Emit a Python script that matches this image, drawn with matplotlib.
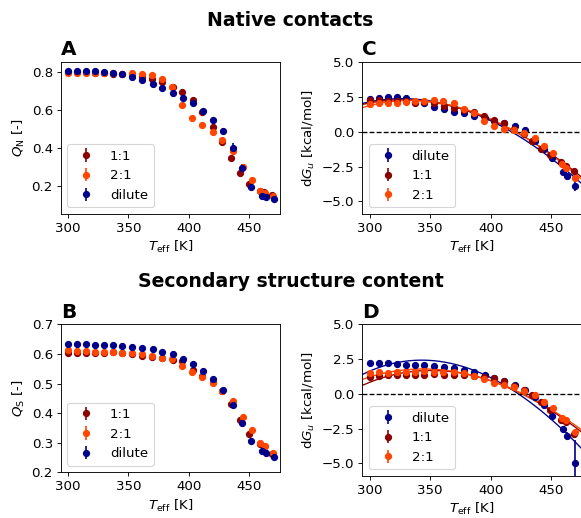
import matplotlib
matplotlib.use('Agg')
import matplotlib.pyplot as plt
import numpy as np

# ---------- data ----------
# effective temperatures of each system (K)
T_dil = [300, 307.5, 315, 322.5, 330, 337.5, 345, 353, 361.5, 370, 378, 386.5,
         395, 403, 411.5, 420, 428.5, 436.5, 444, 451, 460, 463.5, 470]
T_11 = [300, 307.5, 315, 322.5, 330, 337.5, 345, 353, 361.5, 369.5, 378, 386.5,
        394.5, 403, 411, 419.5, 427.5, 434.5, 442, 449.5, 458.5, 462, 469]
T_21 = [300, 307.5, 315, 322.5, 330, 337.5, 345, 353, 361, 369.5, 378, 386,
        394.5, 402.5, 411, 419.5, 427.5, 436.5, 444.5, 452, 459, 462.5, 469.5]

# A: native contacts fraction
QN_dil = [0.808, 0.808, 0.808, 0.806, 0.803, 0.796, 0.791, 0.775, 0.759, 0.736, 0.715, 0.692,
          0.666, 0.636, 0.597, 0.549, 0.491, 0.398, 0.292, 0.195, 0.146, 0.142, 0.128]
QN_11 = [0.800, 0.800, 0.800, 0.799, 0.798, 0.794, 0.791, 0.785, 0.777, 0.765, 0.748, 0.723,
         0.694, 0.652, 0.588, 0.512, 0.433, 0.345, 0.266, 0.209, 0.174, 0.167, 0.151]
QN_21 = [0.798, 0.799, 0.799, 0.799, 0.798, 0.795, 0.794, 0.795, 0.791, 0.784, 0.763, 0.724,
         0.627, 0.560, 0.521, 0.484, 0.442, 0.385, 0.301, 0.231, 0.172, 0.163, 0.145]
QN_dil_err = [0.003, 0.003, 0.003, 0.003, 0.003, 0.003, 0.003, 0.004, 0.004, 0.004, 0.005, 0.005,
              0.006, 0.007, 0.008, 0.010, 0.012, 0.030, 0.022, 0.010, 0.008, 0.006, 0.005]
QN_11_err = [0.003, 0.003, 0.003, 0.003, 0.003, 0.003, 0.003, 0.004, 0.004, 0.004, 0.005, 0.005,
             0.006, 0.007, 0.008, 0.010, 0.012, 0.018, 0.012, 0.008, 0.006, 0.005, 0.005]
QN_21_err = [0.003, 0.003, 0.003, 0.003, 0.003, 0.003, 0.003, 0.004, 0.004, 0.004, 0.005, 0.005,
             0.006, 0.007, 0.008, 0.010, 0.012, 0.015, 0.010, 0.008, 0.006, 0.005, 0.005]

# B: secondary structure content
QS_dil = [0.634, 0.634, 0.633, 0.631, 0.630, 0.629, 0.627, 0.624, 0.621, 0.615, 0.607, 0.599,
          0.583, 0.565, 0.542, 0.514, 0.478, 0.427, 0.366, 0.307, 0.272, 0.264, 0.253]
QS_11 = [0.602, 0.602, 0.602, 0.604, 0.604, 0.605, 0.603, 0.600, 0.593, 0.591, 0.585, 0.580,
         0.577, 0.545, 0.525, 0.505, 0.474, 0.431, 0.377, 0.329, 0.295, 0.287, 0.262]
QS_21 = [0.613, 0.611, 0.610, 0.607, 0.606, 0.605, 0.604, 0.602, 0.599, 0.594, 0.587, 0.582,
         0.560, 0.540, 0.522, 0.503, 0.476, 0.442, 0.388, 0.343, 0.300, 0.289, 0.266]
QS_dil_err = [0.002, 0.002, 0.002, 0.002, 0.002, 0.002, 0.002, 0.002, 0.003, 0.003, 0.003, 0.004,
              0.004, 0.005, 0.005, 0.006, 0.008, 0.012, 0.014, 0.008, 0.006, 0.005, 0.004]
QS_11_err = [0.002, 0.002, 0.002, 0.002, 0.002, 0.002, 0.002, 0.002, 0.003, 0.003, 0.003, 0.004,
             0.004, 0.005, 0.005, 0.006, 0.008, 0.010, 0.008, 0.006, 0.005, 0.004, 0.004]
QS_21_err = [0.002, 0.002, 0.002, 0.002, 0.002, 0.002, 0.002, 0.002, 0.003, 0.003, 0.003, 0.004,
             0.004, 0.005, 0.005, 0.006, 0.008, 0.010, 0.008, 0.006, 0.005, 0.004, 0.004]

# C: unfolding free energy from native contacts (kcal/mol)
dGN_dil = [2.35, 2.45, 2.50, 2.50, 2.40, 2.15, 2.05, 1.79, 1.60, 1.43, 1.31, 1.15,
           0.95, 0.80, 0.63, 0.39, 0.10, -0.63, -1.25, -1.85, -2.87, -3.19, -3.91]
dGN_11 = [2.30, 2.25, 2.20, 2.20, 2.23, 2.09, 2.11, 2.05, 1.84, 1.72, 1.55, 1.38,
          1.14, 0.87, 0.60, 0.20, -0.15, -0.65, -1.24, -1.70, -2.20, -2.45, -2.82]
dGN_21 = [1.97, 2.04, 2.09, 2.09, 2.11, 2.23, 2.23, 2.28, 2.21, 2.04, 1.65, 1.33,
          0.75, 0.44, 0.22, 0.09, -0.10, -0.44, -1.00, -1.56, -2.35, -2.58, -3.31]
dGN_dil_err = [0.05, 0.05, 0.05, 0.05, 0.05, 0.05, 0.05, 0.05, 0.05, 0.05, 0.05, 0.05,
               0.05, 0.05, 0.05, 0.05, 0.06, 0.08, 0.10, 0.12, 0.15, 0.15, 0.35]
dGN_11_err = [0.05, 0.05, 0.05, 0.05, 0.05, 0.05, 0.05, 0.05, 0.05, 0.05, 0.05, 0.05,
              0.05, 0.05, 0.05, 0.05, 0.06, 0.08, 0.10, 0.10, 0.12, 0.12, 0.15]
dGN_21_err = [0.05, 0.05, 0.05, 0.05, 0.05, 0.05, 0.05, 0.05, 0.05, 0.05, 0.05, 0.05,
              0.05, 0.05, 0.05, 0.05, 0.06, 0.08, 0.10, 0.10, 0.12, 0.12, 0.15]

# D: unfolding free energy from secondary structure (kcal/mol)
dGS_dil = [2.20, 2.25, 2.20, 2.13, 2.08, 2.06, 2.06, 1.98, 1.96, 1.89, 1.72, 1.55,
           1.36, 1.15, 0.93, 0.62, 0.25, -0.20, -0.83, -1.58, -2.52, -3.01, -5.00]
dGS_11 = [1.24, 1.29, 1.32, 1.34, 1.36, 1.38, 1.39, 1.40, 1.39, 1.37, 1.34, 1.26,
          1.20, 1.12, 0.90, 0.60, 0.25, -0.10, -0.60, -1.15, -1.85, -2.00, -2.85]
dGS_21 = [1.53, 1.55, 1.53, 1.57, 1.60, 1.60, 1.62, 1.60, 1.57, 1.55, 1.53, 1.31,
          1.05, 0.81, 0.65, 0.48, 0.24, -0.10, -0.57, -1.05, -1.75, -1.91, -2.77]
dGS_dil_err = [0.05, 0.05, 0.05, 0.05, 0.05, 0.05, 0.05, 0.05, 0.05, 0.05, 0.05, 0.05,
               0.05, 0.05, 0.05, 0.05, 0.06, 0.08, 0.10, 0.15, 0.20, 0.25, 1.70]
dGS_11_err = [0.05, 0.05, 0.05, 0.05, 0.05, 0.05, 0.05, 0.05, 0.05, 0.05, 0.05, 0.05,
              0.05, 0.05, 0.05, 0.05, 0.06, 0.08, 0.10, 0.10, 0.12, 0.12, 0.15]
dGS_21_err = [0.05, 0.05, 0.05, 0.05, 0.05, 0.05, 0.05, 0.05, 0.05, 0.05, 0.05, 0.05,
              0.05, 0.05, 0.05, 0.05, 0.06, 0.08, 0.10, 0.10, 0.12, 0.12, 0.15]

col_dil = 'darkblue'
col_11 = 'darkred'
col_21 = 'orangered'

plt.rcParams['font.size'] = 12
MS = 5.5


def gh_fit(T, dG, Tgrid):
    # Gibbs-Helmholtz form is linear in (1, T, T lnT)
    T = np.asarray(T, float)
    A = np.column_stack([np.ones_like(T), T, T * np.log(T)])
    coef, *_ = np.linalg.lstsq(A, np.asarray(dG, float), rcond=None)
    return coef[0] + coef[1] * Tgrid + coef[2] * Tgrid * np.log(Tgrid)


fig = plt.figure(figsize=(581 / 80, 518 / 80), dpi=80)
axA = fig.add_axes([0.1045, 0.5869, 0.378, 0.2934])
axB = fig.add_axes([0.1045, 0.0882, 0.378, 0.2857])
axC = fig.add_axes([0.6236, 0.5869, 0.378, 0.2934])
axD = fig.add_axes([0.6236, 0.0811, 0.378, 0.2929])

xlim = (294, 475.5)

# --- A ---
axA.errorbar(T_11, QN_11, yerr=QN_11_err, fmt='o', ms=MS, color=col_11, label='1:1')
axA.errorbar(T_21, QN_21, yerr=QN_21_err, fmt='o', ms=MS, color=col_21, label='2:1')
axA.errorbar(T_dil, QN_dil, yerr=QN_dil_err, fmt='o', ms=MS, color=col_dil, label='dilute')
axA.set_ylim(0.05, 0.855)
axA.set_yticks([0.2, 0.4, 0.6, 0.8])
axA.set_ylabel(r'$Q_\mathrm{N}$ [-]')

# --- B ---
axB.errorbar(T_11, QS_11, yerr=QS_11_err, fmt='o', ms=MS, color=col_11, label='1:1')
axB.errorbar(T_21, QS_21, yerr=QS_21_err, fmt='o', ms=MS, color=col_21, label='2:1')
axB.errorbar(T_dil, QS_dil, yerr=QS_dil_err, fmt='o', ms=MS, color=col_dil, label='dilute')
axB.set_ylim(0.2, 0.7)
axB.set_ylabel(r'$Q_\mathrm{S}$ [-]')

# --- C and D ---
Tgrid = np.linspace(xlim[0], xlim[1], 300)
for ax, d_dil, e_dil, d_11, e_11, d_21, e_21 in [
        (axC, dGN_dil, dGN_dil_err, dGN_11, dGN_11_err, dGN_21, dGN_21_err),
        (axD, dGS_dil, dGS_dil_err, dGS_11, dGS_11_err, dGS_21, dGS_21_err)]:
    ax.errorbar(T_dil, d_dil, yerr=e_dil, fmt='o', ms=MS, color=col_dil, label='dilute')
    ax.plot(Tgrid, gh_fit(T_dil, d_dil, Tgrid), color=col_dil, lw=1.2)
    ax.errorbar(T_11, d_11, yerr=e_11, fmt='o', ms=MS, color=col_11, label='1:1')
    ax.plot(Tgrid, gh_fit(T_11, d_11, Tgrid), color=col_11, lw=1.2)
    ax.errorbar(T_21, d_21, yerr=e_21, fmt='o', ms=MS, color=col_21, label='2:1')
    ax.plot(Tgrid, gh_fit(T_21, d_21, Tgrid), color=col_21, lw=1.2)
    ax.axhline(0, color='k', ls='--', lw=1.2)
    ax.set_ylim(-5.9, 5.0)
    ax.set_yticks([-5.0, -2.5, 0.0, 2.5, 5.0])
    ax.set_ylabel(r'd$G_u$ [kcal/mol]')

for ax, letter in zip([axA, axB, axC, axD], 'ABCD'):
    ax.set_xlim(*xlim)
    ax.set_xticks([300, 350, 400, 450])
    ax.set_xlabel(r'$T_\mathrm{eff}$ [K]')
    ax.set_title(letter, loc='left', fontweight='bold', fontsize=18, pad=6)
    ax.legend(loc='lower left')

fig.text(0.5, 0.9498, 'Native contacts', ha='center', va='baseline',
         fontsize=17, fontweight='bold')
fig.text(0.5, 0.446, 'Secondary structure content', ha='center', va='baseline',
         fontsize=17, fontweight='bold')

fig.savefig('out.png', dpi=80)
